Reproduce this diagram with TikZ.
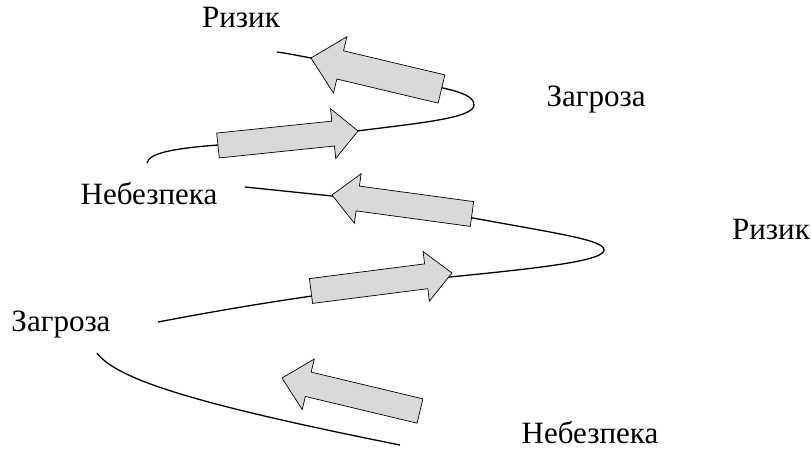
\documentclass[tikz,border=0pt]{standalone}
\usepackage{fontspec}
\setmainfont{Liberation Serif}
\usetikzlibrary{calc}
\definecolor{arrowgray}{HTML}{D9D9D9}
\tikzset{
  curveline/.style={line width=1.3pt, black},
  blockar/.style={draw=black, line width=0.7pt, fill=arrowgray, line join=miter},
  lbl/.style={font=\fontsize{31}{34}\selectfont, anchor=base, inner sep=0pt}
}
% #1 tail, #2 tip, #3 half shaft width, #4 half head width, #5 head length
\newcommand\blockarrow[5]{%
  \coordinate (N) at ($(#2)!#5pt!(#1)$);
  \draw[blockar] ($(#1)!#3pt!90:(#2)$) -- ($(N)!#3pt!-90:(#1)$) -- ($(N)!#4pt!-90:(#1)$)
    -- (#2) -- ($(N)!#4pt!90:(#1)$) -- ($(N)!#3pt!90:(#1)$) -- ($(#1)!#3pt!-90:(#2)$) -- cycle;
}
\begin{document}
\begin{tikzpicture}[x=1pt,y=-1pt]
\useasboundingbox (0,0) rectangle (811,449);
% labels
\node[lbl] (r1) at (241,28) {Ризик};
\node[lbl] (z1) at (596,107) {Загроза};
\node[lbl] (n1) at (149,205) {Небезпека};
\node[lbl] (r2) at (771,240) {Ризик};
\node[lbl] (z2) at (61,331) {Загроза};
\node[lbl] (n2) at (590,443) {Небезпека};
% curves
\draw[curveline] (147,163) .. controls (149,152) and (180,148) .. (218,145)
  -- (357,131) .. controls (420,123) and (474,118) .. (474,105)
  .. controls (474,96) and (460,92) .. (443,88)
  -- (311,58) .. controls (295,55) and (285,53) .. (277,52);
\draw[curveline] (245,187) -- (332,196) -- (473,218)
  .. controls (560,234) and (604,240) .. (604,250)
  .. controls (604,261) and (540,268) .. (450,277)
  -- (312,296) .. controls (250,305) and (200,314) .. (158,322);
\draw[curveline] (97,353) .. controls (117,380) and (200,405) .. (400,445);
% arrows
\coordinate (aT) at (441.5,89); \coordinate (aH) at (311,58);
\coordinate (bT) at (218,145.5); \coordinate (bH) at (358,131);
\coordinate (cT) at (472,214); \coordinate (cH) at (332,195);
\coordinate (dT) at (311,291); \coordinate (dH) at (452,273);
\coordinate (eT) at (420,411); \coordinate (eH) at (282,378);
\blockarrow{aT}{aH}{14.5}{29}{30}
\blockarrow{bT}{bH}{12.5}{25}{25}
\blockarrow{cT}{cH}{12.5}{25}{26}
\blockarrow{dT}{dH}{12.5}{25}{26}
\blockarrow{eT}{eH}{12.5}{26}{27}
\end{tikzpicture}
\end{document}
